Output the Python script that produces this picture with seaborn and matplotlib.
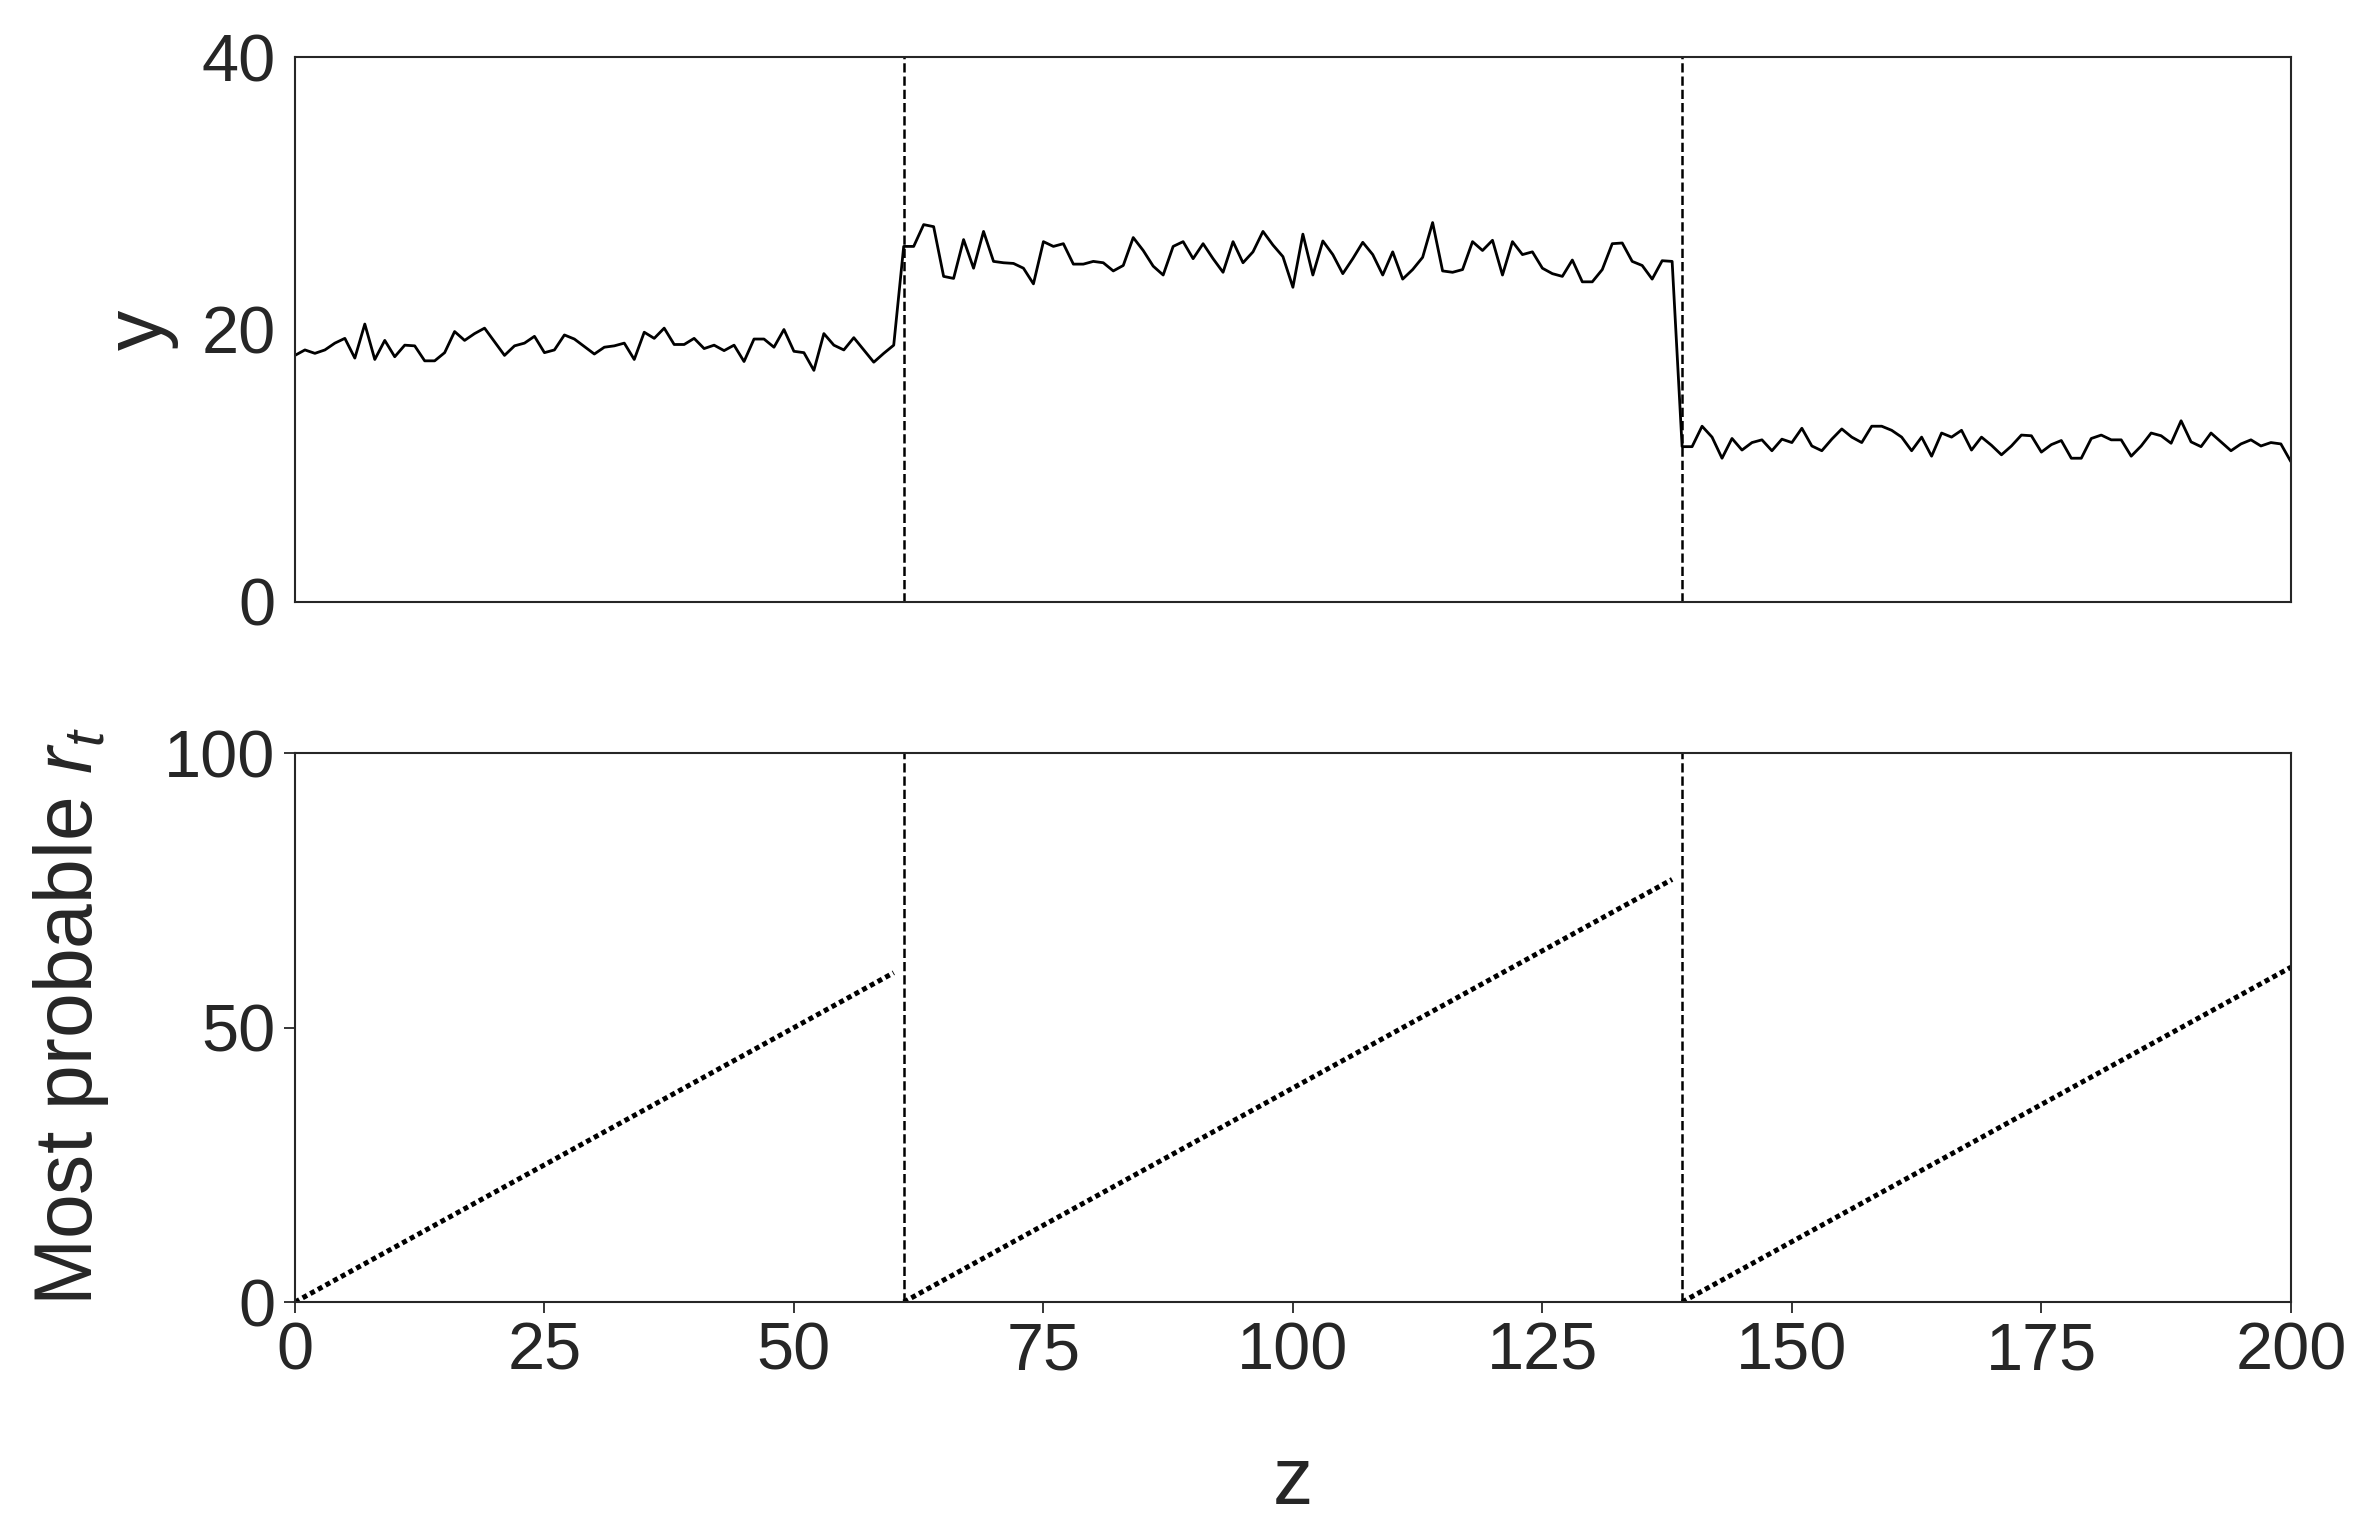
import matplotlib
matplotlib.use("Agg")
import matplotlib.pyplot as plt
import numpy as np
import pandas as pd
import seaborn as sns

y_obs = [
    18.1, 18.5, 18.25, 18.5, 19.0, 19.35, 17.9, 20.4, 17.8, 19.2,
    18.0, 18.85, 18.8, 17.7, 17.7, 18.3, 19.85, 19.2, 19.7, 20.1,
    19.1, 18.1, 18.8, 19.0, 19.5, 18.3, 18.5, 19.6, 19.3, 18.75,
    18.2, 18.7, 18.8, 19.0, 17.8, 19.8, 19.35, 20.1, 18.9, 18.9,
    19.35, 18.6, 18.85, 18.45, 18.85, 17.65, 19.3, 19.3, 18.7, 20.0,
    18.4, 18.3, 17.0, 19.7, 18.85, 18.5, 19.4, 18.5, 17.6, 18.25,
    18.85, 26.1, 26.1, 27.7, 27.55, 23.9, 23.75, 26.6, 24.5, 27.2,
    25.0, 24.9, 24.85, 24.5, 23.35, 26.45, 26.1, 26.3, 24.8, 24.8,
    25.0, 24.9, 24.3, 24.7, 26.75, 25.8, 24.65, 24.0, 26.1, 26.45,
    25.2, 26.3, 25.2, 24.2, 26.45, 24.9, 25.7, 27.2, 26.2, 25.35,
    23.1, 27.0, 24.0, 26.5, 25.5, 24.1, 25.2, 26.4, 25.5, 24.0,
    25.7, 23.7, 24.4, 25.3, 27.85, 24.3, 24.2, 24.4, 26.45, 25.8,
    26.55, 24.0, 26.45, 25.5, 25.7, 24.5, 24.1, 23.9, 25.1, 23.5,
    23.5, 24.4, 26.3, 26.35, 25.0, 24.7, 23.7, 25.05, 25.0, 11.4,
    11.4, 12.9, 12.1, 10.55, 12.0, 11.15, 11.7, 11.9, 11.1, 11.95,
    11.7, 12.75, 11.45, 11.1, 11.95, 12.7, 12.1, 11.7, 12.9, 12.9,
    12.6, 12.1, 11.1, 12.1, 10.7, 12.4, 12.1, 12.6, 11.15, 12.1,
    11.5, 10.8, 11.45, 12.25, 12.2, 11.0, 11.55, 11.85, 10.55, 10.55,
    12.0, 12.25, 11.9, 11.9, 10.7, 11.45, 12.4, 12.2, 11.65, 13.3,
    11.75, 11.4, 12.4, 11.75, 11.1, 11.6, 11.9, 11.45, 11.7, 11.6,
    10.3,
]

# most probable run length, one segment per regime
rt_seg1 = [
    0, 1, 2, 3, 4, 5, 6, 7, 8, 9, 10, 11, 12, 13, 14, 15, 16, 17, 18, 19,
    20, 21, 22, 23, 24, 25, 26, 27, 28, 29, 30, 31, 32, 33, 34, 35, 36, 37,
    38, 39, 40, 41, 42, 43, 44, 45, 46, 47, 48, 49, 50, 51, 52, 53, 54, 55,
    56, 57, 58, 59, 60,
]
rt_seg2 = [
    0, 1, 2, 3, 4, 5, 6, 7, 8, 9, 10, 11, 12, 13, 14, 15, 16, 17, 18, 19,
    20, 21, 22, 23, 24, 25, 26, 27, 28, 29, 30, 31, 32, 33, 34, 35, 36, 37,
    38, 39, 40, 41, 42, 43, 44, 45, 46, 47, 48, 49, 50, 51, 52, 53, 54, 55,
    56, 57, 58, 59, 60, 61, 62, 63, 64, 65, 66, 67, 68, 69, 70, 71, 72, 73,
    74, 75, 76, 77,
]
rt_seg3 = [
    0, 1, 2, 3, 4, 5, 6, 7, 8, 9, 10, 11, 12, 13, 14, 15, 16, 17, 18, 19,
    20, 21, 22, 23, 24, 25, 26, 27, 28, 29, 30, 31, 32, 33, 34, 35, 36, 37,
    38, 39, 40, 41, 42, 43, 44, 45, 46, 47, 48, 49, 50, 51, 52, 53, 54, 55,
    56, 57, 58, 59, 60, 61,
]
change_points = [61, 139]

x_ticks = [0, 25, 50, 75, 100, 125, 150, 175, 200]
y_ticks_top = [0, 20, 40]
y_ticks_bottom = [0, 50, 100]

# build data frames
z = np.arange(len(y_obs))
df_top = pd.DataFrame({"z": z, "y": y_obs})
rt_all = rt_seg1 + rt_seg2 + rt_seg3
seg_id = [0] * len(rt_seg1) + [1] * len(rt_seg2) + [2] * len(rt_seg3)
df_rt = pd.DataFrame({"z": z, "rt": rt_all, "seg": seg_id})

sns.set_theme(style="ticks")
plt.rcParams["font.family"] = ["Liberation Sans", "DejaVu Sans"]
plt.rcParams["mathtext.fontset"] = "custom"
plt.rcParams["mathtext.rm"] = "Liberation Sans"
plt.rcParams["mathtext.it"] = "Liberation Sans:italic"
plt.rcParams["axes.linewidth"] = 1.5

tick_fs = 48
label_fs = 58

fig = plt.figure(figsize=(23.71, 15.34), dpi=100)
ax1 = fig.add_axes([0.1244, 0.6076, 0.8418, 0.3552])
ax2 = fig.add_axes([0.1244, 0.1512, 0.8418, 0.3578])

# top: observations
sns.lineplot(data=df_top, x="z", y="y", color="black", linewidth=2, ax=ax1)
for cp in change_points:
    ax1.axvline(cp, color="black", linestyle="--", linewidth=1.8)
ax1.set_xlim(0, 200)
ax1.set_ylim(0, 40)
ax1.set_xticks(x_ticks)
ax1.set_yticks(y_ticks_top)
ax1.set_xticklabels([])
ax1.tick_params(length=0, labelsize=tick_fs, pad=14)
ax1.set_xlabel("")
ax1.set_ylabel("y", fontsize=label_fs)
ax1.yaxis.set_label_coords(-0.058, 0.5)

# bottom: run length (dotted)
sns.lineplot(data=df_rt, x="z", y="rt", units="seg", estimator=None,
             color="black", linewidth=3.6, linestyle=(0, (1, 0.75)), ax=ax2)
for cp in change_points:
    ax2.axvline(cp, color="black", linestyle="--", linewidth=1.8)
ax2.set_xlim(0, 200)
ax2.set_ylim(0, 100)
ax2.set_xticks(x_ticks)
ax2.set_yticks(y_ticks_bottom)
ax2.tick_params(length=8, width=1.3, labelsize=tick_fs, pad=6)
ax2.set_xlabel("z", fontsize=label_fs)
ax2.set_ylabel("Most probable $r_t$", fontsize=label_fs)
ax2.xaxis.set_label_coords(0.5, -0.26)
ax2.yaxis.set_label_coords(-0.092, 0.52)

for ax in (ax1, ax2):
    for s in ax.spines.values():
        s.set_visible(True)
        s.set_color("#262626")

fig.savefig("out.png", dpi=100)
